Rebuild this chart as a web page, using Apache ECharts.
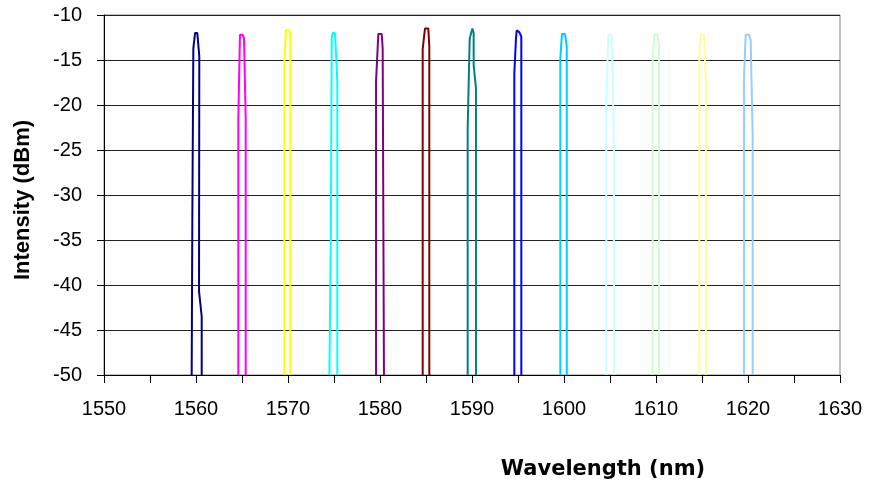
<!DOCTYPE html>
<html>
<head>
<meta charset="utf-8">
<title>Intensity vs Wavelength</title>
<script src="https://cdn.jsdelivr.net/npm/echarts@6/dist/echarts.min.js"></script>
<style>
	html, body { margin: 0; padding: 0; background: #fff; }
	#spectrum-chart { width: 873px; height: 490px; }
</style>
</head>
<body>
<div id="spectrum-chart"></div>
<script>
// wavelength (nm) / intensity (dBm) pairs for each channel
var wl1560 = [1559.53, 1559.60, 1559.71, 1559.90, 1560.14, 1560.36, 1560.33, 1560.62, 1560.62];
var db1560 = [-50, -33, -13.7, -12.0, -12.0, -14.6, -40.7, -43.5, -50];
var wl1565 = [1564.60, 1564.60, 1564.78, 1565.07, 1565.22, 1565.40, 1565.40];
var db1565 = [-50, -21.5, -12.2, -12.2, -12.6, -21.5, -50];
var wl1570 = [1569.60, 1569.60, 1569.78, 1570.14, 1570.25, 1570.25];
var db1570 = [-50, -15.2, -11.7, -11.7, -12.5, -50];
var wl1575 = [1574.50, 1574.67, 1574.75, 1574.86, 1575.11, 1575.22, 1575.36, 1575.36];
var db1575 = [-50, -32.8, -12.6, -12.0, -12.0, -14.3, -17.4, -50];
var wl1580 = [1579.57, 1579.57, 1579.82, 1580.18, 1580.29, 1580.43];
var db1580 = [-50, -17.4, -12.1, -12.1, -13.7, -50];
var wl1585 = [1584.64, 1584.64, 1584.89, 1585.25, 1585.36, 1585.36];
var db1585 = [-50, -13.8, -11.5, -11.5, -13.5, -50];
var wl1590 = [1589.53, 1589.53, 1589.75, 1590.04, 1590.18, 1590.18, 1590.43, 1590.43];
var db1590 = [-50, -22.6, -12.6, -11.5, -12.0, -15.6, -18.1, -50];
var wl1595 = [1594.60, 1594.60, 1594.78, 1594.86, 1595.14, 1595.36, 1595.36];
var db1595 = [-50, -16.5, -12.6, -11.7, -11.9, -12.4, -50];
var wl1600 = [1599.60, 1599.60, 1599.78, 1600.11, 1600.30, 1600.30];
var db1600 = [-50, -14.8, -12.1, -12.1, -13.5, -50];
var wl1605 = [1604.60, 1604.60, 1604.82, 1605.18, 1605.25, 1605.43, 1605.43];
var db1605 = [-50, -19.4, -12.2, -12.2, -15.2, -24.6, -50];
var wl1610 = [1609.64, 1609.64, 1609.82, 1610.18, 1610.33, 1610.33];
var db1610 = [-50, -14.6, -12.2, -12.2, -13.3, -50];
var wl1615 = [1614.71, 1614.71, 1614.89, 1615.22, 1615.43, 1615.43];
var db1615 = [-50, -13.7, -12.2, -12.2, -17.8, -50];
var wl1620 = [1619.57, 1619.57, 1619.75, 1620.11, 1620.29, 1620.51, 1620.51];
var db1620 = [-50, -16.7, -12.2, -12.2, -12.8, -23.5, -50];

var channelNames = ['1560', '1565', '1570', '1575', '1580', '1585', '1590', '1595', '1600', '1605', '1610', '1615', '1620'];
var channelWl = [wl1560, wl1565, wl1570, wl1575, wl1580, wl1585, wl1590, wl1595, wl1600, wl1605, wl1610, wl1615, wl1620];
var channelDb = [db1560, db1565, db1570, db1575, db1580, db1585, db1590, db1595, db1600, db1605, db1610, db1615, db1620];
var channelColors = ['#000080', '#FF00FF', '#FFFF00', '#00FFFF', '#800080', '#800000', '#008080',
                     '#0000FF', '#00CCFF', '#CCFFFF', '#CCFFCC', '#FFFF99', '#99CCFF'];

initSpectrumChart();

function buildSeries(){
	var series = [];
	for (var i = 0; i < channelNames.length; i++) {
		var pts = [];
		for (var j = 0; j < channelWl[i].length; j++) {
			pts.push([channelWl[i][j], channelDb[i][j]]);
		}
		series.push({
			name : channelNames[i],
			type : 'line',
			data : pts,
			showSymbol : false,
			symbol : 'none',
			lineStyle : { color : channelColors[i], width : 2 },
			itemStyle : { color : channelColors[i] }
		});
	}
	return series;
}

function initSpectrumChart() {
	var option = {
		animation : false,
		backgroundColor : '#fff',
		grid : {
			left : 104,
			right : 33,
			top : 15,
			bottom : 115,
			show : true,
			borderColor : '#808080',
			borderWidth : 1
		},
		xAxis : {
			type : 'value',
			min : 1550,
			max : 1630,
			interval : 5,
			name : 'Wavelength (nm)',
			nameLocation : 'middle',
			nameGap : 84,
			nameTextStyle : {
				fontFamily : 'DejaVu Sans',
				fontWeight : 'bold',
				fontSize : 21,
				color : '#000',
				padding : [0, 0, 0, 262]
			},
			axisLine : { lineStyle : { color : '#000', width : 1 } },
			axisTick : { inside : false, length : 8, lineStyle : { color : '#000' } },
			axisLabel : {
				margin : 24,
				fontFamily : 'Liberation Sans',
				fontSize : 20,
				color : '#000',
				formatter : function(v){ return v % 10 === 0 ? String(v) : ''; }
			},
			splitLine : { show : false }
		},
		yAxis : {
			type : 'value',
			min : -50,
			max : -10,
			interval : 5,
			name : 'Intensity (dBm)',
			nameLocation : 'middle',
			nameGap : 70,
			nameTextStyle : {
				fontFamily : 'Liberation Sans',
				fontWeight : 'bold',
				fontSize : 22,
				color : '#000',
				padding : [0, 10, 0, 0]
			},
			axisLine : { show : true, lineStyle : { color : '#000', width : 1 } },
			axisTick : { show : true, inside : false, length : 7, lineStyle : { color : '#000' } },
			axisLabel : {
				margin : 22,
				fontFamily : 'Liberation Sans',
				fontSize : 20,
				color : '#000'
			},
			splitLine : { show : true, lineStyle : { color : '#222', width : 1 } }
		},
		series : buildSeries()
	};
	var chart = echarts.init(document.getElementById('spectrum-chart'));
	chart.setOption(option);
}
</script>
</body>
</html>
